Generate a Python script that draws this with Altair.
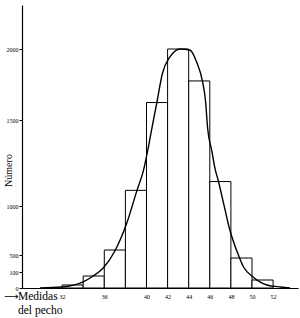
import altair as alt
import pandas as pd

# Histogram bins (chest measure, inches; 2-inch bins) and counts (Número)
bin_start = [32, 34, 36, 38, 40, 42, 44, 46, 48, 50]
bin_end = [34, 36, 38, 40, 42, 44, 46, 48, 50, 52]
counts = [19, 75, 551, 1091, 1623, 2000, 1775, 1142, 429, 50]

# Fitted normal-like curve
curve_x = [29.9, 32.0, 34.0, 34.8, 35.9, 37.0, 38.1, 39.1, 39.7, 40.1, 40.5, 41.0,
           41.5, 42.2, 43.2, 44.1, 44.8, 45.3, 45.6, 45.8, 46.2, 46.5, 46.8, 47.3,
           47.9, 48.6, 49.2, 50.1, 51.4, 52.7, 53.6]
curve_y = [0, 6, 38, 69, 194, 541, 816, 1091, 1204, 1318, 1449, 1630,
           1826, 1942, 2000, 1993, 1899, 1775, 1630, 1449, 1318, 1216, 1148, 1017,
           755, 530, 218, 69, 19, 6, 0]

x_ticks = [32, 36, 40, 42, 44, 46, 48, 50, 52]
y_ticks = [0, 100, 500, 1000, 1500, 2000]

bars_df = pd.DataFrame({"start": bin_start, "end": bin_end, "n": counts})
curve_df = pd.DataFrame({"x": curve_x, "y": curve_y})

SERIF = "Liberation Serif"
W, H = 276, 283

xscale = alt.Scale(domain=[28.2, 54.36], nice=False, zero=False)
# the printed axis is not linear: piecewise scale matching the drawn tick spacing
yscale = alt.Scale(domain=[0, 100, 500, 1000, 1500, 2000, 2319],
                   range=[283, 267, 250, 201, 115, 44, 0], nice=False, zero=False)

xaxis = alt.Axis(values=x_ticks, title=None, grid=False, tickSize=0, format="d",
                 labelOverlap=False, labelBound=False, labelFlush=False,
                 labelFont=SERIF, labelFontSize=6,
                 labelPadding=5, labelColor="black", domainColor="black",
                 domainWidth=1.2)
yaxis = alt.Axis(values=y_ticks, title="Número", grid=False, tickSize=3, format="d",
                 labelOverlap=False, tickColor="black", labelFont=SERIF,
                 labelFontSize=6, labelPadding=1, labelColor="black",
                 domainColor="black", domainWidth=1.2, titleFont=SERIF,
                 titleFontSize=10, titleFontWeight="normal", titleColor="black",
                 titleX=-14, titleY=165, titleAngle=-90, titleBaseline="middle",
                 titleAlign="center")

bars = alt.Chart(bars_df).mark_rect(fill="white", stroke="black", strokeWidth=1).encode(
    x=alt.X("start:Q", scale=xscale, axis=xaxis),
    x2="end:Q",
    y=alt.Y("n:Q", scale=yscale, axis=yaxis),
    y2=alt.datum(0),
)

curve = alt.Chart(curve_df).mark_line(color="black", strokeWidth=1.4,
                                      interpolate="monotone").encode(
    x=alt.X("x:Q", scale=xscale, axis=xaxis),
    y=alt.Y("y:Q", scale=yscale, axis=yaxis),
)

lab_df = pd.DataFrame({"t": ["Medidas", "del pecho"],
                       "px": [-4, -4], "py": [292, 306]})
labels = alt.Chart(lab_df).mark_text(font=SERIF, fontSize=11.5, align="left",
                                     baseline="middle", color="black").encode(
    x=alt.X("px:Q", scale=None),
    y=alt.Y("py:Q", scale=None),
    text="t:N",
)
arrow_df = pd.DataFrame({"t": ["⟶"], "px": [-18], "py": [292]})
arrow = alt.Chart(arrow_df).mark_text(font="DejaVu Sans", fontSize=10, align="left",
                                      baseline="middle", color="black").encode(
    x=alt.X("px:Q", scale=None),
    y=alt.Y("py:Q", scale=None),
    text="t:N",
)

chart = alt.layer(bars, curve, labels, arrow).properties(
    width=W, height=H,
    autosize=alt.AutoSizeParams(type="none"),
    padding={"left": 22, "top": 5, "right": 2, "bottom": 30},
).configure_view(stroke=None).configure_axis(labelOverlap=False)

chart.save("out.html", embed_options={"renderer": "svg", "actions": False})
